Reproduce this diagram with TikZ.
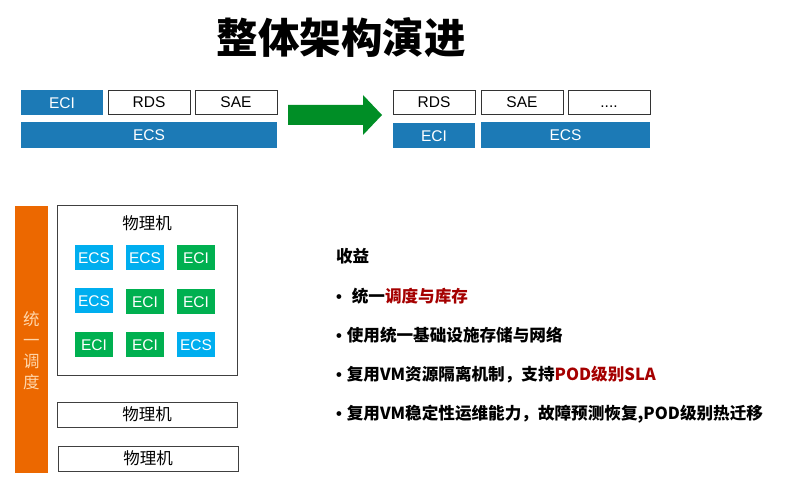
\documentclass[tikz,border=0pt]{standalone}
\usepackage{fontspec}
\setmainfont{Liberation Sans}
\newfontfamily\cjk{Noto Sans CJK SC}
\newfontfamily\bul{Liberation Sans}
\newcommand{\bulletmark}{{\bul\bfseries •}\hspace{5pt}}
\definecolor{topblue}{RGB}{28,122,182}
\definecolor{ecsblue}{RGB}{0,174,239}
\definecolor{ecigreen}{RGB}{0,176,80}
\definecolor{arrowgreen}{RGB}{0,142,38}
\definecolor{barorange}{RGB}{236,104,0}
\definecolor{bartext}{RGB}{255,214,170}
\definecolor{hilite}{RGB}{165,0,0}
\tikzset{
  every node/.style={inner sep=0pt, outer sep=0pt},
  lbl/.style={font=\fontsize{15.5}{18}\selectfont, text height=11.1pt, text depth=0pt},
  tb/.style={lbl, draw=black!80, line width=0.8pt, fill=white, minimum width=82pt, minimum height=24pt},
  bb/.style={lbl, fill=topblue, text=white, minimum height=25pt},
  ecs/.style={lbl, fill=ecsblue, text=white, minimum width=38pt, minimum height=25pt},
  eci/.style={lbl, fill=ecigreen, text=white, minimum width=38pt, minimum height=25pt},
  pm/.style={draw=black!75, line width=0.8pt, fill=white},
  pmtext/.style={font=\cjk\fontsize{16.5}{19}\selectfont},
  benefit/.style={anchor=west, font=\cjk\bfseries\fontsize{16.6}{19}\selectfont},
}
\begin{document}
\begin{tikzpicture}[x=1pt,y=-1pt]
\useasboundingbox (0,0) rectangle (790,486);
% title
\node[font=\cjk\bfseries\fontsize{41.5}{46}\selectfont] (title) at (341,38) {整体架构演进};
% left stack
\node[bb, minimum width=82pt] (leci) at (62,102.5) {ECI};
\node[tb] (lrds) at (149,102) {RDS};
\node[tb] (lsae) at (236,102) {SAE};
\node[bb, minimum width=256pt, minimum height=26pt] (lecs) at (149,135) {ECS};
% arrow
\fill[arrowgreen] (288,105) -- (363,105) -- (363,95) -- (382,115) -- (363,135) -- (363,125) -- (288,125) -- cycle;
% right stack
\node[tb] (rrds) at (434,102) {RDS};
\node[tb] (rsae) at (522,102) {SAE};
\node[tb] (rdots) at (609,102) {....};
\node[bb, minimum width=82pt] (reci) at (434,135.5) {ECI};
\node[bb, minimum width=169pt, minimum height=26pt] (recs) at (565.5,135) {ECS};
% orange bar
\node[fill=barorange, minimum width=33pt, minimum height=267pt] (bar) at (31.5,339.5) {};
\node[text=bartext, font=\cjk\fontsize{16.5}{21}\selectfont, align=center] (bartxt) at (31.5,351) {统\\一\\调\\度};
% physical machines
\node[pm, minimum width=180pt, minimum height=170pt] (pm1) at (147,290) {};
\node[pmtext] (pm1l) at (147,223) {物理机};
\node[ecs] (c11) at (94,257.5) {ECS};
\node[ecs] (c12) at (145,257.5) {ECS};
\node[eci] (c13) at (196,257.5) {ECI};
\node[ecs] (c21) at (94,301) {ECS};
\node[eci] (c22) at (145,302) {ECI};
\node[eci] (c23) at (196,302) {ECI};
\node[eci] (c31) at (94,344.5) {ECI};
\node[eci] (c32) at (145,345) {ECI};
\node[ecs] (c33) at (196,345) {ECS};
\node[pm, pmtext, minimum width=180pt, minimum height=25pt] (pm2) at (147,414.5) {物理机};
\node[pm, pmtext, minimum width=180pt, minimum height=25pt] (pm3) at (148,458.5) {物理机};
% benefits
\node[benefit] (h) at (336,256) {收益};
\node[benefit] (b1) at (336,296) {\bulletmark\hspace{5pt}统一\textcolor{hilite}{调度与库存}};
\node[benefit] (b2) at (336,335) {\bulletmark 使用统一基础设施存储与网络};
\node[benefit] (b3) at (336,375) {\bulletmark 复用VM资源隔离机制，支持\textcolor{hilite}{POD级别SLA}};
\node[benefit] (b4) at (336,414) {\bulletmark 复用VM稳定性运维能力，故障预测恢复,POD级别热迁移};
\end{tikzpicture}
\end{document}
